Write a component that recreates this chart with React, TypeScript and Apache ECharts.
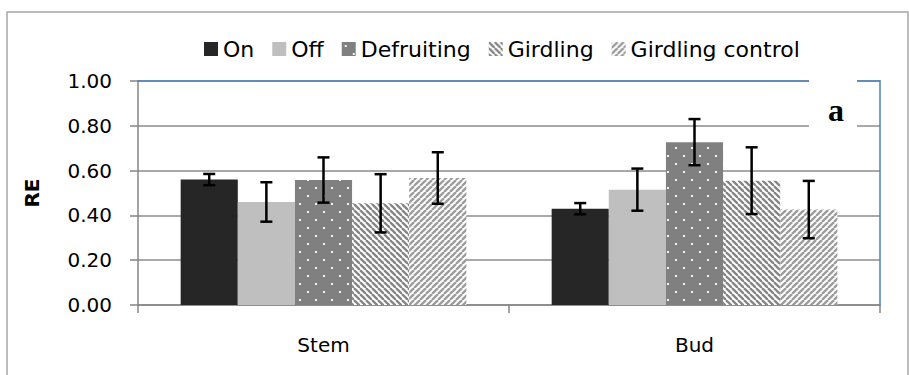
import React, { useEffect, useRef } from 'react';
import * as echarts from 'echarts';

// Relative expression per tissue and treatment, with error half-widths
const categories = ['Stem', 'Bud'];
const seriesNames = ['On', 'Off', 'Defruiting', 'Girdling', 'Girdling control'];
const onValues = [0.56, 0.43];
const onErrors = [0.025, 0.025];
const offValues = [0.46, 0.515];
const offErrors = [0.088, 0.094];
const defruitingValues = [0.558, 0.727];
const defruitingErrors = [0.101, 0.103];
const girdlingValues = [0.454, 0.555];
const girdlingErrors = [0.13, 0.149];
const girdlingControlValues = [0.567, 0.426];
const girdlingControlErrors = [0.115, 0.128];
const panelLabel = 'a';

const BAR_GAP_RATIO = 0.23;
const FONT = '"DejaVu Sans", sans-serif';

function makeTile(w: number, h: number, draw: (ctx: CanvasRenderingContext2D) => void) {
  const c = document.createElement('canvas');
  c.width = w;
  c.height = h;
  const ctx = c.getContext('2d') as CanvasRenderingContext2D;
  draw(ctx);
  return c;
}

function dotPattern() {
  return makeTile(16, 16, (ctx) => {
    ctx.fillStyle = '#808080';
    ctx.fillRect(0, 0, 16, 16);
    ctx.fillStyle = '#f2f2f2';
    ctx.fillRect(3, 3, 2, 2);
    ctx.fillRect(11, 11, 2, 2);
  });
}

function stripePattern(color: string, down: boolean) {
  return makeTile(6, 6, (ctx) => {
    ctx.fillStyle = '#ffffff';
    ctx.fillRect(0, 0, 6, 6);
    ctx.strokeStyle = color;
    ctx.lineWidth = 2.3;
    for (const o of [-6, 0, 6]) {
      ctx.beginPath();
      if (down) {
        ctx.moveTo(o, 0);
        ctx.lineTo(o + 6, 6);
      } else {
        ctx.moveTo(o, 6);
        ctx.lineTo(o + 6, 0);
      }
      ctx.stroke();
    }
  });
}

function errorSeries(k: number, values: number[], errors: number[]) {
  return {
    type: 'custom',
    name: seriesNames[k] + ' error',
    data: values.map((v, i) => [i, v, errors[i]]),
    encode: { x: 0, y: 1 },
    z: 5,
    silent: true,
    renderItem: (_params: any, api: any) => {
      const ci = api.value(0);
      const v = api.value(1);
      const e = api.value(2);
      const catW = api.size([1, 0])[0];
      const barW = (catW * (1 - BAR_GAP_RATIO)) / 5;
      const base = api.coord([ci, v]);
      const x = base[0] + (k - 2) * barW;
      const yTop = api.coord([ci, v + e])[1];
      const yBot = api.coord([ci, v - e])[1];
      const cap = 6;
      const style = { stroke: '#000', lineWidth: 2.5 };
      return {
        type: 'group',
        children: [
          { type: 'line', shape: { x1: x, y1: yTop, x2: x, y2: yBot }, style },
          { type: 'line', shape: { x1: x - cap, y1: yTop, x2: x + cap, y2: yTop }, style },
          { type: 'line', shape: { x1: x - cap, y1: yBot, x2: x + cap, y2: yBot }, style },
        ],
      };
    },
  };
}

export default function App() {
  const ref = useRef<HTMLDivElement>(null);

  useEffect(() => {
    if (!ref.current) return;
    const chart = echarts.init(ref.current, undefined, { renderer: 'svg' });

    const fills: any[] = [
      '#262626',
      '#bfbfbf',
      { image: dotPattern(), repeat: 'repeat' },
      { image: stripePattern('#858585', true), repeat: 'repeat' },
      { image: stripePattern('#9c9c9c', false), repeat: 'repeat' },
    ];
    const values = [onValues, offValues, defruitingValues, girdlingValues, girdlingControlValues];
    const errors = [onErrors, offErrors, defruitingErrors, girdlingErrors, girdlingControlErrors];

    const gray = '#868686';
    const blue = '#4f81bd';

    chart.setOption({
      animation: false,
      backgroundColor: '#ffffff',
      grid: { left: 138, top: 81, width: 742, height: 224 },
      legend: {
        data: seriesNames,
        left: 199,
        top: 33,
        itemWidth: 14,
        itemHeight: 14,
        itemGap: 18,
        icon: 'rect',
        textStyle: { fontFamily: FONT, fontSize: 22, color: '#000' },
      },
      xAxis: [
        {
          type: 'category',
          data: categories,
          axisLine: { onZero: false, lineStyle: { color: gray, width: 1.5 } },
          axisTick: { show: true, length: 8, lineStyle: { color: gray, width: 1.5 } },
          axisLabel: { color: '#000', fontSize: 20, fontFamily: FONT, margin: 30 },
          splitLine: { show: false },
        },
        {
          type: 'category',
          position: 'top',
          data: categories,
          z: 4,
          axisLine: { onZero: false, lineStyle: { color: blue, width: 1.5 } },
          axisTick: { show: false },
          axisLabel: { show: false },
          splitLine: { show: false },
        },
      ],
      yAxis: [
        {
          type: 'value',
          min: 0,
          max: 1,
          interval: 0.2,
          name: 'RE',
          nameLocation: 'middle',
          nameGap: 96,
          nameTextStyle: { fontFamily: FONT, fontSize: 20, fontWeight: 'bold', color: '#000' },
          axisLine: { show: true, onZero: false, lineStyle: { color: gray, width: 1.5 } },
          axisTick: { show: true, length: 8, lineStyle: { color: gray, width: 1.5 } },
          axisLabel: {
            color: '#000',
            fontSize: 20,
            fontFamily: FONT,
            margin: 26,
            formatter: (v: number) => v.toFixed(2),
          },
          splitLine: { lineStyle: { color: '#8c8c8c', width: 1.5 } },
        },
        {
          type: 'value',
          position: 'right',
          min: 0,
          max: 1,
          interval: 0.2,
          z: 4,
          axisLine: { show: true, onZero: false, lineStyle: { color: blue, width: 1.5 } },
          axisTick: { show: false },
          axisLabel: { show: false },
          splitLine: { show: false },
        },
      ],
      series: [
        ...seriesNames.map((name, k) => ({
          type: 'bar',
          name,
          data: values[k],
          barGap: '0%',
          barCategoryGap: `${BAR_GAP_RATIO * 100}%`,
          itemStyle: { color: fills[k] },
          z: 3,
        })),
        ...seriesNames.map((_n, k) => errorSeries(k, values[k], errors[k])),
      ],
      graphic: [
        {
          type: 'rect',
          shape: { x: 7, y: 12, width: 901, height: 420 },
          style: { fill: 'none', stroke: '#a6a6a6', lineWidth: 1.5 },
          z: 1,
          silent: true,
        },
        {
          type: 'rect',
          shape: { x: 809, y: 77, width: 48, height: 51 },
          style: { fill: '#ffffff' },
          z: 100,
          silent: true,
        },
        {
          type: 'text',
          x: 836,
          y: 110,
          style: {
            text: panelLabel,
            font: 'bold 32px "Liberation Serif", serif',
            fill: '#000',
            textAlign: 'center',
            textVerticalAlign: 'middle',
          },
          z: 101,
          silent: true,
        },
      ],
    });

    return () => chart.dispose();
  }, []);

  return (
    <div
      ref={ref}
      style={{ position: 'fixed', left: 0, top: 0, width: 909, height: 375 }}
    />
  );
}
